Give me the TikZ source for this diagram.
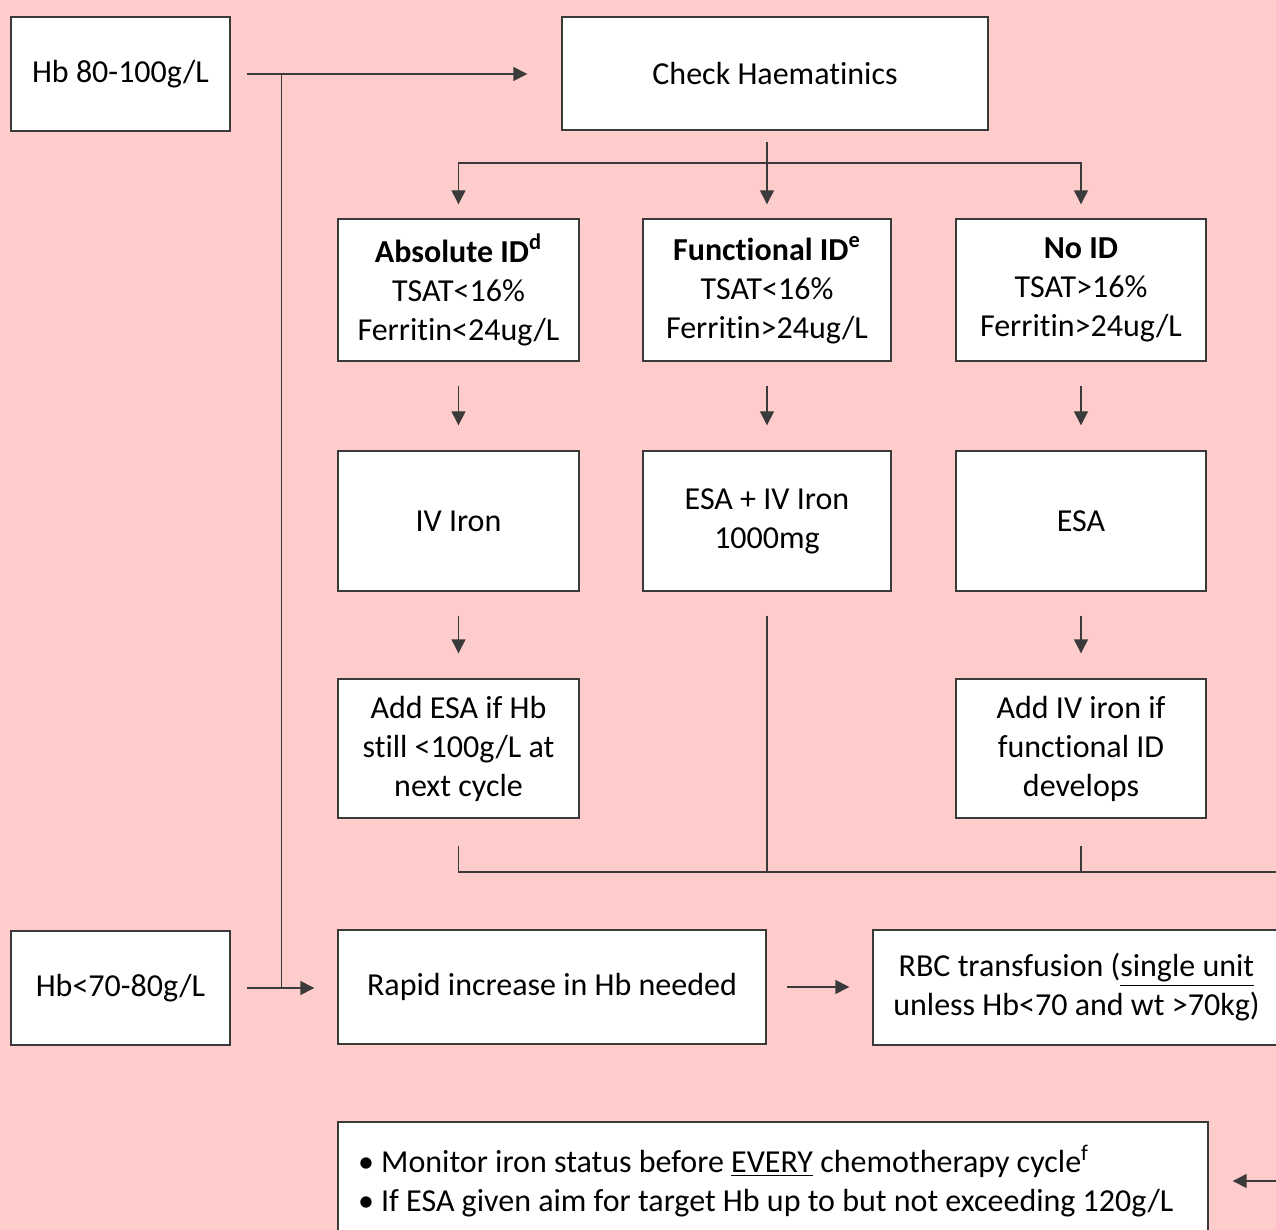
\documentclass[tikz,border=0pt]{standalone}
\usepackage{fontspec}
\setmainfont{Carlito}[Ligatures=CommonOff]
\usetikzlibrary{arrows.meta, calc}
\definecolor{cpink}{HTML}{FFCCCC}
\definecolor{cline}{HTML}{3A3A3A}
\tikzset{
  every picture/.style={font=\fontsize{16}{19.5}\selectfont, line width=0.7pt},
  box/.style={draw=cline, fill=white, align=center, inner sep=0pt},
  arrow/.style={-{Triangle[length=7pt, width=7pt]}, draw=cline},
  link/.style={draw=cline},
}

\begin{document}
\begin{tikzpicture}[x=0.5pt, y=-0.5pt]
  \useasboundingbox (0,0) rectangle (1276,1230);
  \clip (0,0) rectangle (1276,1230);
  \fill[cpink] (0,0) rectangle (1276,1230);

  % entry points
  \node[box, minimum width=109.5pt, minimum height=57pt] (hbmod) at (120.5,74)  {Hb 80-100g/L};
  \node[box, minimum width=109.5pt, minimum height=57pt] (hbsev) at (120.5,988) {Hb<70-80g/L};
  \node[box, minimum width=213pt, minimum height=56.5pt] (check) at (775,73.5) {Check Haematinics};

  % iron status
  \node[box, minimum width=120.5pt, minimum height=71pt] (absid)  at (458.5,290) {\textbf{Absolute ID\textsuperscript{d}}\\TSAT<16\%\\Ferritin<24ug/L};
  \node[box, minimum width=124pt,   minimum height=71pt] (funcid) at (767,290)   {\textbf{Functional ID\textsuperscript{e}}\\TSAT<16\%\\Ferritin>24ug/L};
  \node[box, minimum width=125pt,   minimum height=71pt] (noid)   at (1081,290)  {\textbf{No ID}\\TSAT>16\%\\Ferritin>24ug/L};

  % treatment
  \node[box, minimum width=120.5pt, minimum height=70pt] (ivfe)  at (458.5,521) {IV Iron};
  \node[box, minimum width=124pt,   minimum height=70pt] (esafe) at (767,521)   {ESA + IV Iron\\1000mg};
  \node[box, minimum width=125pt,   minimum height=70pt] (esa)   at (1081,521)  {ESA};
  \node[box, minimum width=120.5pt, minimum height=69.5pt] (addesa) at (458.5,748.5) {Add ESA if Hb\\still <100g/L at\\next cycle};
  \node[box, minimum width=125pt,   minimum height=69.5pt] (addfe)  at (1081,748.5)  {Add IV iron if\\functional ID\\develops};

  % severe anaemia
  \node[box, minimum width=214pt,   minimum height=57pt] (rapid) at (552,987)    {Rapid increase in Hb needed};
  \node[box, minimum width=203.5pt, minimum height=57.5pt] (rbc) at (1076.5,987.5) {RBC transfusion (\underline{single unit}\\unless Hb<70 and wt >70kg)};
  \node[box, align=flush left, text width=415pt, inner xsep=10pt, minimum height=59pt] (monitor) at (773,1181)
    {• Monitor iron status before \underline{EVERY} chemotherapy cycle\textsuperscript{f}\\• If ESA given aim for target Hb up to but not exceeding 120g/L};

  % connectors
  \coordinate (tap) at ([xshift=25.5pt]hbmod.east);
  \coordinate (split) at (767,163);
  \coordinate (join) at (1300,872);
  \draw[arrow, shorten <=8pt, shorten >=17pt] (hbmod.east) -- (hbmod.east -| check.west);
  \draw[link] (tap) -- (tap |- hbsev.east);
  \draw[arrow, shorten <=8pt, shorten >=11.5pt] (hbsev.east) -- (hbsev.east -| rapid.west);
  \draw[link] (split |- check.south) ++(0,11) -- (split);
  \draw[arrow, shorten >=7pt] (split) -| (absid.north);
  \draw[arrow, shorten >=7pt] (split) -- (funcid.north);
  \draw[arrow, shorten >=7pt] (split) -| (noid.north);
  \foreach \a/\b in {absid/ivfe, funcid/esafe, noid/esa, ivfe/addesa, esa/addfe}
    \draw[arrow, shorten <=12pt, shorten >=12.5pt] (\a.south) -- (\b.north);
  \draw[link] ([yshift=-13.5pt]addesa.south) |- (join);
  \draw[link] ([yshift=-12pt]esafe.south) -- (esafe.south |- join);
  \draw[link] ([yshift=-13.5pt]addfe.south) -- (addfe.south |- join);
  \draw[arrow, shorten >=12pt] (join) |- (monitor.east);
  \draw[arrow, shorten <=10pt, shorten >=11.5pt] (rapid.east) -- (rapid.east -| rbc.west);
\end{tikzpicture}
\end{document}
